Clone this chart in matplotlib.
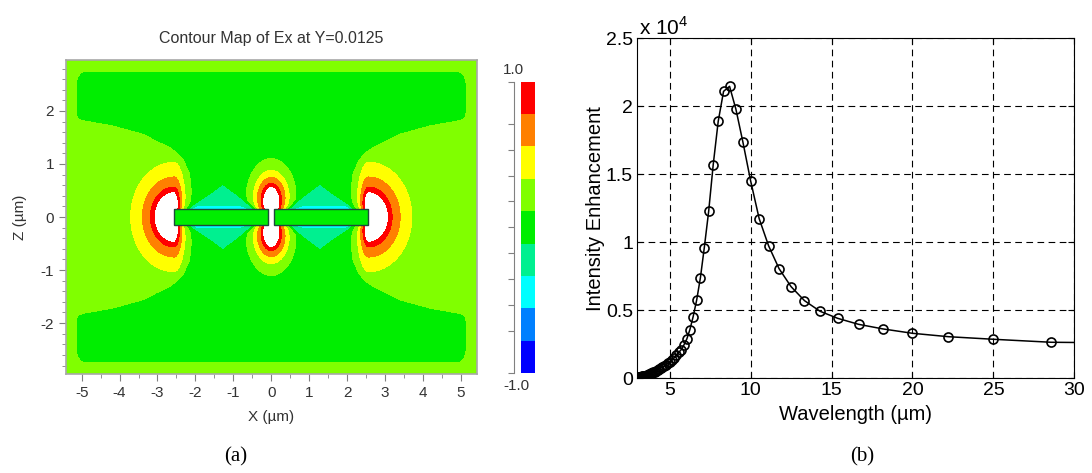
import numpy as np
import matplotlib
matplotlib.use('Agg')
import matplotlib.pyplot as plt
from matplotlib.patches import Rectangle
from matplotlib.ticker import MultipleLocator, FuncFormatter

plt.rcParams['font.family'] = ['Liberation Sans', 'DejaVu Sans']
plt.rcParams['mathtext.fontset'] = 'custom'
plt.rcParams['mathtext.rm'] = 'Liberation Sans'
plt.rcParams['axes.unicode_minus'] = False

# ---- (a) field map of Ex
arm_x = [(-2.56, -0.085), (0.085, 2.56)]   # antenna arms (um)
arm_half = 0.15
# half width of the green column of the far field vs |z|
lobe_z = [0.0, 0.5, 0.81, 1.06, 1.31, 1.56, 1.72, 1.82, 1.90, 2.2]
lobe_w = [2.10, 2.12, 2.17, 2.35, 2.73, 3.39, 4.2, 5.0, 5.3, 7.5]
strip_x, strip_z = 5.14, 2.75               # inner edge of the boundary strip
far_green, far_lobe = 0.035, 0.215
end_amp, end_scale = 1.21, 0.65            # hot spots at the outer arm ends
gap_amp, gap_zc = 1.2, 0.3                 # hot spots above / below the gap
diamond_xc, diamond_ax, diamond_az, diamond_val = 1.28, 0.88, 0.48, -0.26
strip_val = -0.32

level_bounds = [-1.0, -0.875, -0.625, -0.375, -0.125, 0.125, 0.375, 0.625, 0.875, 1.0]
level_colors = ['#0000ff', '#0080ff', '#00ffff', '#00f090', '#00ee00',
                '#80ff00', '#ffff00', '#ff8000', '#ff0000']

# ---- (b) intensity enhancement spectrum
wavelength = [33.33, 28.57, 25.00, 22.22, 20.00, 18.18, 16.67, 15.38, 14.29, 13.33,
              12.50, 11.76, 11.11, 10.53, 10.00, 9.52, 9.09, 8.70, 8.33, 8.00,
              7.69, 7.41, 7.14, 6.90, 6.67, 6.45, 6.25, 6.06, 5.88, 5.71,
              5.56, 5.41, 5.26, 5.13, 5.00, 4.88, 4.76, 4.65, 4.55, 4.44,
              4.35, 4.26, 4.17, 4.08, 4.00, 3.92, 3.85, 3.77, 3.70, 3.64,
              3.57, 3.51, 3.45, 3.39, 3.33, 3.28, 3.23, 3.17, 3.13, 3.08, 3.03]
enhancement = [2600, 2650, 2870, 3060, 3310, 3630, 3970, 4410, 4930, 5710,
               6740, 8060, 9750, 11740, 14530, 17400, 19800, 21470, 21100, 18900,
               15700, 12280, 9610, 7400, 5760, 4530, 3580, 2890, 2450, 2100,
               1900, 1690, 1500, 1360, 1220, 1090, 980, 890, 820, 760,
               700, 640, 560, 500, 450, 410, 360, 320, 280, 250,
               220, 200, 185, 175, 165, 150, 130, 110, 95, 80, 70]


def smooth_max(a, b, eps=0.05):
    return 0.5 * (a + b) + np.sqrt(0.25 * (a - b) ** 2 + eps ** 2)


def ex_field(X, Z):
    ax_, az_ = np.abs(X), np.abs(Z)
    # far field: yellow-green side lobes + boundary strip, green elsewhere
    s_lobe = ax_ - np.interp(az_, lobe_z, lobe_w)
    r = 0.25
    qx, qz = ax_ - (strip_x - r), az_ - (strip_z - r)
    s_edge = np.hypot(np.maximum(qx, 0), np.maximum(qz, 0)) + np.minimum(np.maximum(qx, qz), 0) - r
    s = smooth_max(s_lobe, s_edge)
    mid, half = 0.5 * (far_lobe + far_green), 0.5 * (far_lobe - far_green)
    f = mid + half * np.tanh(s / 0.08)
    for sgn in (-1, 1):
        # outer end hot spot
        dx = (X - sgn * arm_x[1][1]) * sgn
        dx = np.where(dx > 0, dx, 3.5 * dx)
        f += end_amp * np.exp(-(dx ** 2 + (Z / 0.9) ** 2) / end_scale)
        # negative diamonds over the arms
        L1 = np.abs(X - sgn * diamond_xc) / diamond_ax + (az_ - arm_half) / diamond_az
        f += diamond_val * np.clip((1.1 - L1) / 0.2, 0, 1)
    win = 1 / (1 + np.exp(-(ax_ - 0.3) / 0.05)) / (1 + np.exp((ax_ - 2.45) / 0.05))
    f += strip_val * np.exp(-(az_ - arm_half) / 0.1) * win
    rho = np.sqrt((X / 0.255) ** 2 + ((az_ - gap_zc) / 0.3) ** 2)
    f += gap_amp * np.exp(-rho ** 2.2 / 3.367)
    f += 1.5 * np.exp(-(X / 0.12) ** 2 - (Z / 0.3) ** 2)
    for x0, x1 in arm_x:
        inside = (X >= x0) & (X <= x1) & (az_ <= arm_half)
        f[inside] = 0.0
    return f


fig = plt.figure(figsize=(10.92, 4.73), dpi=100)

xs = np.linspace(-5.42, 5.42, 1200)
zs = np.linspace(-2.96, 2.96, 800)
X, Z = np.meshgrid(xs, zs)
field = ex_field(X, Z)

axa = fig.add_axes([0.0602, 0.2093, 0.3764, 0.6638])
cs = axa.contourf(xs, zs, field, levels=level_bounds, colors=level_colors)
for x0, x1 in arm_x:
    axa.add_patch(Rectangle((x0, -arm_half), x1 - x0, 2 * arm_half,
                            fc=level_colors[4], ec='#1d4a3c', lw=1.0, zorder=3))
axa.set_xlim(-5.42, 5.42)
axa.set_ylim(-2.96, 2.96)
axa.xaxis.set_major_locator(MultipleLocator(1))
axa.xaxis.set_minor_locator(MultipleLocator(0.5))
axa.yaxis.set_major_locator(MultipleLocator(1))
axa.yaxis.set_minor_locator(MultipleLocator(0.2))
for sp in axa.spines.values():
    sp.set_color('#a8a8a8')
    sp.set_linewidth(1.2)
axa.tick_params(which='both', direction='out', color='#808080', labelcolor='#333333', labelsize=11)
axa.tick_params(which='major', length=5)
axa.tick_params(which='minor', length=3)
axa.set_title('Contour Map of Ex at Y=0.0125', fontsize=11.5, color='#333333', pad=12)
axa.set_xlabel('X (µm)', fontsize=11, color='#333333', labelpad=7)
axa.set_ylabel('Z (µm)', fontsize=11, color='#333333', labelpad=10)

cax = fig.add_axes([0.4771, 0.2114, 0.0128, 0.6159])
cb = fig.colorbar(cs, cax=cax)
cb.outline.set_visible(False)
cb.set_ticks(np.linspace(-1, 1, 11))
cax.yaxis.set_ticks_position('left')
cax.tick_params(labelleft=False, labelright=False, direction='out', length=4, color='#808080')
cax.spines['left'].set_visible(True)
cax.spines['left'].set_color('#808080')
cax.spines['left'].set_position(('outward', 5))
cax.text(-0.55, 1.015, '1.0', transform=cax.transAxes, ha='center', va='bottom', fontsize=11, color='#333333')
cax.text(-0.35, -0.02, '-1.0', transform=cax.transAxes, ha='center', va='top', fontsize=11, color='#333333')

axb = fig.add_axes([0.5836, 0.2002, 0.4002, 0.7188])
axb.plot(wavelength, enhancement, '-o', color='k', lw=1.1, ms=6.5, mfc='none', mew=1.2)
axb.set_xlim(3, 30)
axb.set_ylim(0, 25000)
axb.set_xticks([5, 10, 15, 20, 25, 30])
axb.set_yticks(np.arange(0, 25001, 5000))
axb.yaxis.set_major_formatter(FuncFormatter(lambda v, p: '%g' % (v / 1e4)))
axb.grid(True, color='k', ls=(0, (6, 4)), lw=0.8)
axb.tick_params(direction='in', length=4, labelsize=14, top=True, right=True, pad=3)
axb.set_xlabel('Wavelength (µm)', fontsize=14.5, labelpad=4)
axb.set_ylabel('Intensity Enhancement', fontsize=14.5, labelpad=1)
axb.text(0.003, 1.0, r'x 10$^4$', transform=axb.transAxes, ha='left', va='bottom', fontsize=15)

fig.text(236 / 1092, 1 - 457 / 473, '(a)', family='Liberation Serif', fontsize=15, ha='center', va='center')
fig.text(862 / 1092, 1 - 457 / 473, '(b)', family='Liberation Serif', fontsize=15, ha='center', va='center')

fig.savefig('out.png', dpi=100)
